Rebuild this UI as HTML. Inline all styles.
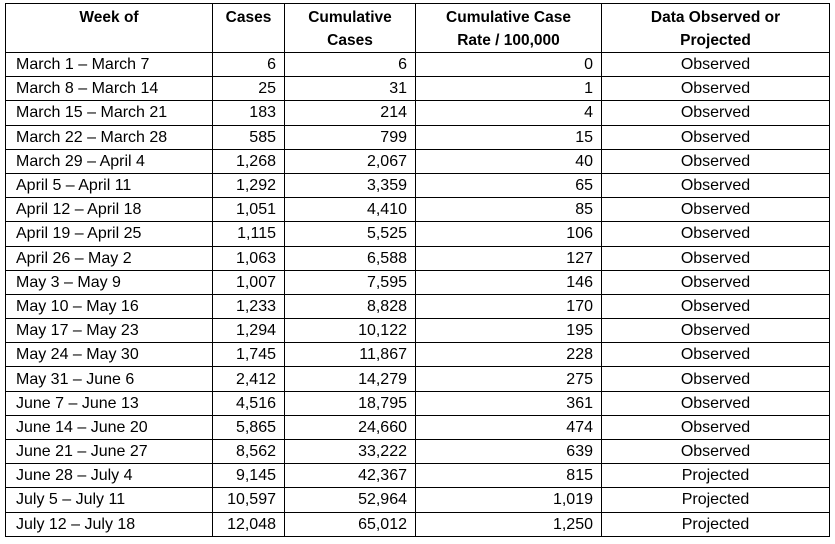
<!DOCTYPE html>
<html><head><meta charset="utf-8"><style>
html,body{margin:0;padding:0;background:#fff;width:835px;height:544px;overflow:hidden}
table{position:absolute;left:5px;top:3px;border-collapse:collapse;table-layout:fixed;font-family:"Liberation Sans",sans-serif;font-size:16px;color:#000}
td,th{border:1.5px solid #000;padding:0 8px;white-space:nowrap;overflow:hidden}
tbody tr{height:24.2px}
td{line-height:22px;padding-top:1px}
th{font-weight:bold;height:46px;line-height:23px;text-align:center;vertical-align:top;padding-top:2px;font-size:15.5px}
td:first-child{padding-left:10px}
td.n{text-align:right}
td.c{text-align:center}
</style></head><body>
<table>
<colgroup><col style="width:207px"><col style="width:72px"><col style="width:131px"><col style="width:186px"><col style="width:228px"></colgroup>
<thead><tr>
<th>Week of</th>
<th>Cases</th>
<th>Cumulative<br>Cases</th>
<th>Cumulative Case<br>Rate / 100,000</th>
<th>Data Observed or<br>Projected</th>
</tr></thead>
<tbody id="tb"></tbody>
</table>
<script>
const weeks=["March 1 – March 7","March 8 – March 14","March 15 – March 21","March 22 – March 28","March 29 – April 4","April 5 – April 11","April 12 – April 18","April 19 – April 25","April 26 – May 2","May 3 – May 9","May 10 – May 16","May 17 – May 23","May 24 – May 30","May 31 – June 6","June 7 – June 13","June 14 – June 20","June 21 – June 27","June 28 – July 4","July 5 – July 11","July 12 – July 18"];
const cases=[6,25,183,585,1268,1292,1051,1115,1063,1007,1233,1294,1745,2412,4516,5865,8562,9145,10597,12048];
const cumulative=[6,31,214,799,2067,3359,4410,5525,6588,7595,8828,10122,11867,14279,18795,24660,33222,42367,52964,65012];
const rates=[0,1,4,15,40,65,85,106,127,146,170,195,228,275,361,474,639,815,1019,1250];
const status=["Observed","Observed","Observed","Observed","Observed","Observed","Observed","Observed","Observed","Observed","Observed","Observed","Observed","Observed","Observed","Observed","Observed","Projected","Projected","Projected"];
const tb=document.getElementById('tb');
const f=v=>v.toLocaleString('en-US');
weeks.forEach((w,i)=>{
 const tr=document.createElement('tr');
 
 
 const vals=[[w,''],[f(cases[i]),'n'],[f(cumulative[i]),'n'],[f(rates[i]),'n'],[status[i],'c']];
 const names=['week-cell','cases-cell','cumulative-cell','rate-cell','status-cell'];
 vals.forEach((v,j)=>{
  const td=document.createElement('td');
  td.textContent=v[0];
  if(v[1])td.className=v[1];
  
  
  tr.appendChild(td);
 });
 tb.appendChild(tr);
});
</script>
</body></html>
